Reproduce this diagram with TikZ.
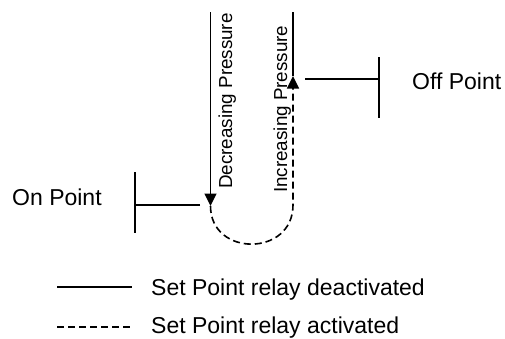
\documentclass[tikz,border=0pt]{standalone}
\usepackage{fontspec}
\setmainfont{Liberation Sans}
\usetikzlibrary{arrows.meta}
\begin{document}
\begin{tikzpicture}[x=1pt,y=-1pt,
  wire/.style={line width=1.6pt},
  relayon/.style={wire,dash pattern=on 7pt off 4pt},
  tip/.style={-{Triangle[length=12.5pt,width=12pt]}},
  label/.style={inner sep=0pt,anchor=base west,font=\fontsize{23}{27}\selectfont},
  sidelabel/.style={inner sep=0pt,anchor=base west,rotate=90,font=\fontsize{18.8}{22}\selectfont}]
\useasboundingbox (0,0) rectangle (505,338);

% pressure path
\coordinate (decTop) at (210.5,12);
\coordinate (onTip) at (210.5,206);
\coordinate (incTop) at (293,12);
\coordinate (offTip) at (293,76);
\coordinate (turnR) at (293,205);

\draw[wire,tip] (decTop) -- (onTip);
\draw[relayon,tip] (onTip) .. controls (210.5,257) and (293,257) .. (turnR) -- (offTip);
\draw[wire] (incTop) -- (offTip);

\node[sidelabel] (dec) at (232,189) {Decreasing Pressure};
\node[sidelabel] (inc) at (287,193) {Increasing Pressure};

% on point marker
\coordinate (onA) at (200,205);
\coordinate (onB) at (135,205);
\coordinate (onC) at (135,172);
\coordinate (onD) at (135,233);
\draw[wire] (onA) -- (onB);
\draw[wire] (onC) -- (onD);
\node[label] (onlab) at (12,205) {On Point};

% off point marker
\coordinate (offA) at (305,79);
\coordinate (offB) at (379,79);
\coordinate (offC) at (379,57);
\coordinate (offD) at (379,118);
\draw[wire] (offA) -- (offB);
\draw[wire] (offC) -- (offD);
\node[label] (offlab) at (412,89) {Off Point};

% legend
\coordinate (l1a) at (57,287);
\coordinate (l1b) at (132,287);
\coordinate (l2a) at (57,327);
\coordinate (l2b) at (132,327);
\draw[wire] (l1a) -- (l1b);
\draw[relayon] (l2a) -- (l2b);
\node[label] (leg1) at (151,295) {Set Point relay deactivated};
\node[label] (leg2) at (151,333) {Set Point relay activated};
\end{tikzpicture}
\end{document}
